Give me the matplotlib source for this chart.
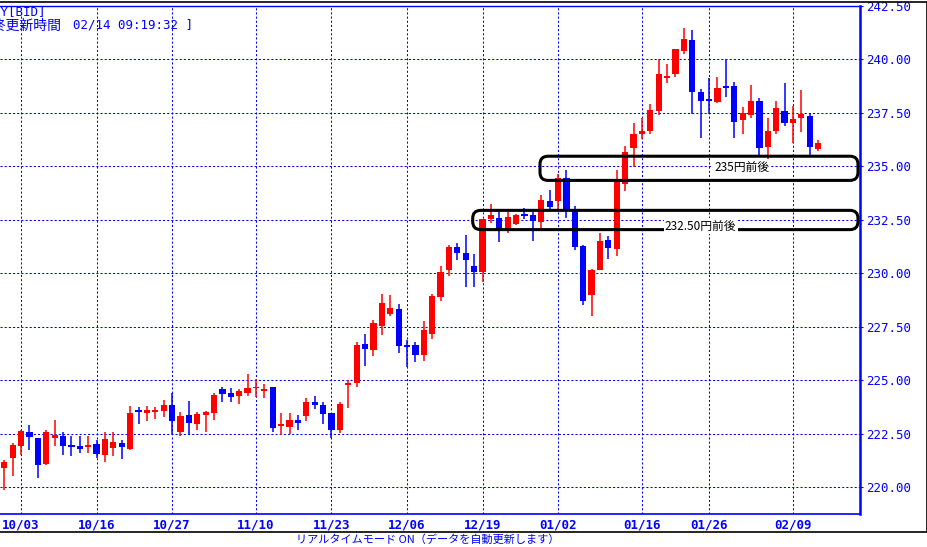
import matplotlib
matplotlib.use('Agg')
import matplotlib.pyplot as plt
from matplotlib.patches import FancyBboxPatch, Rectangle
import numpy as np

# daily candles, oldest first (index = trading day)
opens = [220.92, 221.39, 221.95, 222.59, 222.32, 221.09, 222.30, 222.40, 221.97, 221.93,
         221.92, 222.03, 221.51, 221.84, 222.07, 221.79, 223.58, 223.48, 223.52, 223.57,
         223.85, 222.60, 223.38, 222.98, 223.40, 223.49, 224.60, 224.41, 224.29, 224.43,
         224.63, 224.52, 224.70, 222.88, 222.84, 223.15, 223.35, 223.98, 223.84, 223.47,
         222.69, 224.82, 224.89, 226.70, 226.43, 227.54, 228.12, 228.34, 226.64, 226.68,
         226.19, 227.17, 228.90, 230.14, 231.23, 230.98, 230.34, 230.06, 232.53, 232.58,
         232.09, 232.31, 232.75, 232.75, 232.41, 233.41, 233.39, 234.48, 233.00, 231.28,
         228.98, 230.16, 231.55, 231.13, 234.17, 235.86, 236.53, 236.65, 237.59, 239.17,
         239.33, 240.39, 240.93, 238.50, 238.12, 238.01, 238.74, 238.74, 237.17, 237.40,
         238.08, 235.90, 236.65, 237.57, 237.02, 237.26, 237.38, 235.81]
highs = [221.29, 222.10, 222.68, 222.92, 222.33, 222.68, 223.15, 222.59, 222.42, 222.42,
         222.40, 222.21, 222.59, 222.59, 222.21, 223.82, 223.74, 223.81, 223.76, 224.09,
         224.41, 223.52, 224.04, 223.54, 223.57, 224.41, 224.71, 224.65, 224.60, 225.30,
         225.07, 224.84, 224.70, 223.49, 223.49, 223.38, 224.18, 224.26, 223.98, 223.47,
         223.98, 225.00, 226.79, 227.17, 227.82, 229.04, 228.99, 228.57, 226.89, 226.78,
         227.79, 229.04, 230.33, 231.31, 231.41, 231.78, 230.89, 232.53, 233.23, 232.92,
         232.88, 232.77, 233.08, 232.88, 233.66, 233.89, 234.67, 234.83, 233.16, 231.31,
         230.19, 231.88, 231.73, 234.83, 235.97, 237.01, 237.26, 237.90, 240.03, 239.81,
         240.47, 241.45, 241.36, 238.64, 239.14, 239.16, 240.03, 238.93, 237.76, 238.80,
         238.22, 237.26, 238.04, 238.91, 237.85, 238.57, 237.51, 236.23]
lows = [219.89, 220.54, 221.54, 221.76, 220.45, 221.04, 221.95, 221.51, 221.48, 221.60,
        221.60, 221.36, 221.18, 221.45, 221.32, 221.76, 222.96, 223.10, 223.20, 223.29,
        222.49, 222.42, 222.52, 222.68, 222.60, 223.16, 224.01, 223.98, 223.91, 224.29,
        224.21, 224.20, 222.60, 222.46, 222.52, 222.70, 223.12, 223.67, 222.95, 222.30,
        222.53, 223.72, 224.70, 225.69, 226.15, 227.14, 228.03, 226.28, 225.64, 225.87,
        225.92, 226.93, 228.71, 229.88, 230.63, 229.36, 229.36, 229.61, 232.38, 231.47,
        231.89, 232.28, 232.53, 231.52, 232.14, 232.92, 233.00, 232.61, 231.12, 228.52,
        228.00, 230.16, 230.70, 230.81, 233.86, 234.97, 236.29, 236.50, 237.40, 238.89,
        239.19, 240.25, 237.45, 236.34, 237.43, 237.98, 238.24, 236.34, 236.53, 237.27,
        235.45, 235.30, 236.50, 236.88, 236.11, 236.60, 235.48, 235.72]
closes = [221.17, 221.98, 222.63, 222.37, 221.06, 222.59, 222.46, 221.95, 221.93, 221.79,
          221.98, 221.56, 222.26, 222.12, 221.88, 223.48, 223.54, 223.62, 223.60, 223.87,
          223.10, 223.34, 223.03, 223.43, 223.53, 224.32, 224.38, 224.24, 224.51, 224.65,
          224.71, 224.60, 222.79, 222.92, 223.15, 223.02, 224.01, 223.86, 223.42, 222.69,
          223.89, 224.86, 226.65, 226.47, 227.68, 228.62, 228.39, 226.62, 226.60, 226.19,
          227.36, 228.95, 230.09, 231.23, 230.94, 230.63, 230.06, 232.53, 232.72, 232.09,
          232.63, 232.72, 232.71, 232.45, 233.42, 233.11, 234.48, 233.00, 231.23, 228.73,
          230.14, 231.52, 231.19, 234.30, 235.67, 236.53, 236.64, 237.66, 239.30, 239.21,
          240.47, 240.98, 238.49, 238.05, 238.08, 238.69, 238.70, 237.07, 237.49, 238.04,
          235.86, 236.68, 237.71, 237.02, 237.20, 237.43, 235.90, 236.12]

dateTickIdx = [2, 11, 20, 30, 39, 48, 57, 66, 76, 84, 94]
dateTickLabels = ['10/03', '10/16', '10/27', '11/10', '11/23', '12/06',
                  '12/19', '01/02', '01/16', '01/26', '02/09']
priceTicks = [220.0, 222.5, 225.0, 227.5, 230.0, 232.5, 235.0, 237.5, 240.0, 242.5]

# support zones drawn by hand on the chart
zoneLabels = ['235円前後', '232.50円前後']
zoneLow = [234.35, 232.05]
zoneHigh = [235.48, 232.95]
zoneStart = [63.85, 55.83]
zoneEnd = [101.75, 101.75]
zoneTextX = [87.9, 83.0]
zoneTextY = [234.97, 232.20]

BLUE = '#0000FF'
RED = '#FF0000'
W, H = 928, 547

plt.rcParams['font.family'] = ['DejaVu Sans Mono', 'Noto Sans CJK JP']

fig = plt.figure(figsize=(W / 100, H / 100), dpi=100)
ax = fig.add_axes([0, 1 - 514 / H, 860 / W, (514 - 6) / H])

x = np.arange(len(opens))
o = np.array(opens)
c = np.array(closes)
up = c >= o
colors = np.where(up, RED, BLUE)

# wicks and bodies
ax.vlines(x, lows, highs, colors=colors, linewidth=1.1, zorder=3)
bodyBottom = np.minimum(o, c)
bodyHeight = np.maximum(np.abs(c - o), 0.09)
ax.bar(x, bodyHeight, bottom=bodyBottom - (bodyHeight - np.abs(c - o)) / 2,
       width=0.74, color=colors, linewidth=0, zorder=4)

ax.set_xlim(-0.51, 101.99)
ax.set_ylim(218.76, 242.5)

# grid
ax.set_xticks(dateTickIdx)
ax.set_xticklabels(dateTickLabels, color=BLUE, fontsize=9, fontweight='bold')
ax.set_yticks(priceTicks)
ax.set_yticklabels(['%.2f' % v for v in priceTicks], color=BLUE, fontsize=9)
ax.yaxis.tick_right()
ax.tick_params(axis='x', length=0, pad=3)
ax.tick_params(axis='y', length=2.5, width=0.8, color=BLUE, pad=2)
ax.grid(True, color=BLUE, linestyle=(0, (2, 2)), linewidth=0.75, zorder=1)
ax.set_axisbelow(True)

ax.spines['left'].set_visible(False)
ax.spines['top'].set_color(BLUE)
ax.spines['top'].set_linewidth(1.0)
ax.spines['bottom'].set_color(BLUE)
ax.spines['bottom'].set_linewidth(1.2)
ax.spines['right'].set_color(BLUE)
ax.spines['right'].set_linewidth(1.8)

# rounded zone boxes (radius ~8px in both directions)
pxX = 8.39
pxY = 21.4
r = 8 / pxX
aspect = (1 / pxY) / (1 / pxX)
for i in range(len(zoneLabels)):
    box = FancyBboxPatch((zoneStart[i], zoneLow[i]), zoneEnd[i] - zoneStart[i],
                         zoneHigh[i] - zoneLow[i],
                         boxstyle='round,pad=0,rounding_size=%f' % r,
                         mutation_aspect=aspect, fill=False, edgecolor='black',
                         linewidth=2.2, zorder=6)
    ax.add_patch(box)
    ax.text(zoneTextX[i], zoneTextY[i], zoneLabels[i], ha='center', va='center',
            fontsize=8.5, color='black', family=['Noto Sans CJK JP', 'DejaVu Sans'],
            zorder=7, bbox=dict(facecolor='white', edgecolor='none', pad=1.0))

# header text (clipped at left edge like the original window)
fig.text(46 / W, 1 - 12 / H, 'GBPJPY[BID]', ha='right', va='center',
         color=BLUE, fontsize=9)
fig.text(62 / W, 1 - 25 / H, '[最終更新時間', ha='right', va='center',
         color=BLUE, fontsize=10, family=['Noto Sans CJK JP', 'DejaVu Sans'])
fig.text(73 / W, 1 - 25 / H, '02/14 09:19:32 ]', ha='left', va='center',
         color=BLUE, fontsize=9)

# footer
fig.text(428 / W, 1 - 540 / H, 'リアルタイムモード ON（データを自動更新します）',
         ha='center', va='center', color=BLUE, fontsize=8,
         family=['Noto Sans CJK JP', 'DejaVu Sans'])

# outer window border
fig.add_artist(Rectangle((-0.01, 1 - 532 / H), 927 / W + 0.01, 530 / H,
                         transform=fig.transFigure, fill=False,
                         edgecolor='black', linewidth=1.2))

fig.savefig('out.png', dpi=100)
